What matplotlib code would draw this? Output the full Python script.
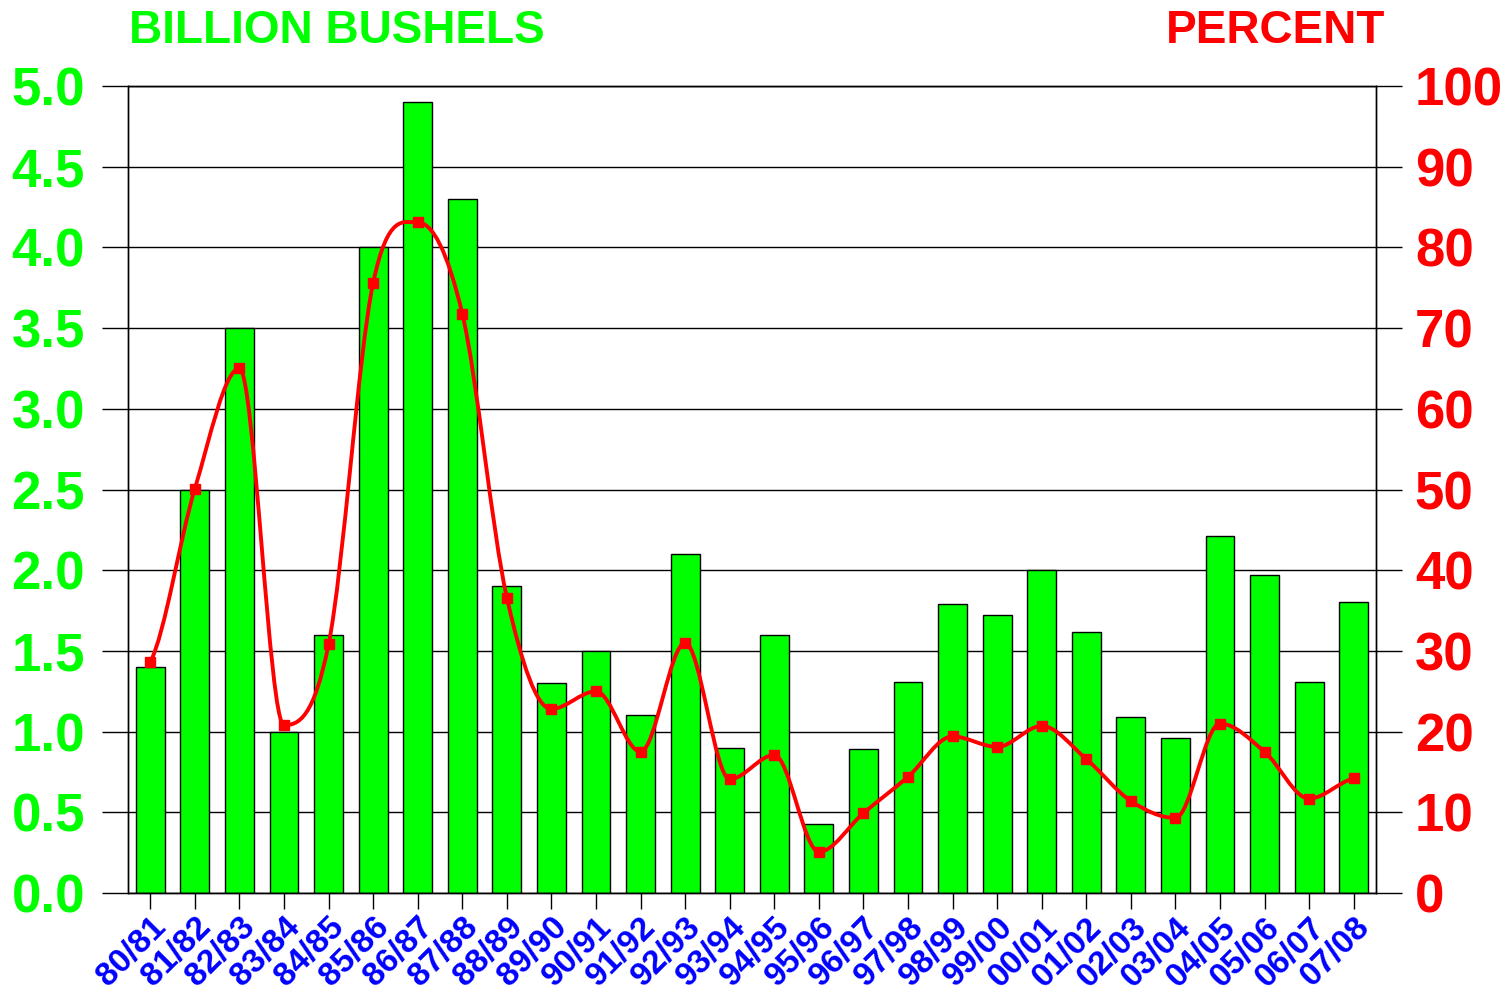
import numpy as np
import matplotlib
matplotlib.use("Agg")
import matplotlib.pyplot as plt
from matplotlib.path import Path
from matplotlib.patches import PathPatch

plt.rcParams['font.family'] = ['Liberation Sans', 'DejaVu Sans']
plt.rcParams['font.weight'] = 'bold'

# marketing years
years = ['80/81', '81/82', '82/83', '83/84', '84/85', '85/86', '86/87', '87/88',
         '88/89', '89/90', '90/91', '91/92', '92/93', '93/94', '94/95', '95/96',
         '96/97', '97/98', '98/99', '99/00', '00/01', '01/02', '02/03', '03/04',
         '04/05', '05/06', '06/07', '07/08']

# ending stocks, billion bushels (bars)
stocks = [1.40, 2.50, 3.50, 1.00, 1.60, 4.00, 4.90, 4.30,
          1.90, 1.30, 1.50, 1.10, 2.10, 0.90, 1.60, 0.43,
          0.89, 1.31, 1.79, 1.72, 2.00, 1.62, 1.09, 0.96,
          2.21, 1.97, 1.31, 1.80]

# stocks-to-use, percent (line)
pct = [28.6, 50.1, 65.0, 20.8, 30.8, 75.6, 83.1, 71.8,
       36.6, 22.8, 25.0, 17.5, 31.0, 14.1, 17.1, 5.1,
       9.9, 14.4, 19.4, 18.1, 20.7, 16.6, 11.4, 9.3,
       21.0, 17.5, 11.7, 14.2]

GREEN = '#00FF00'
RED = '#FF0000'
BLUE = '#0000FF'

fig = plt.figure(figsize=(15.07, 9.96), dpi=100)
ax1 = fig.add_axes([128 / 1507, 103 / 996, 1248 / 1507, 807 / 996])
ax2 = ax1.twinx()

x = np.arange(len(years))
ax1.bar(x, stocks, width=0.65, color=GREEN, edgecolor='black', linewidth=1, zorder=2)
ax1.set_xlim(-0.5, len(years) - 0.5)
ax1.set_ylim(0, 5)
ax1.set_yticks(np.arange(0, 5.01, 0.5))
ax1.set_yticklabels([f'{v:.1f}' for v in np.arange(0, 5.01, 0.5)])
ax1.set_axisbelow(True)
ax1.grid(axis='y', color='black', linewidth=1)
ax1.tick_params(axis='y', direction='out', length=19, width=1, pad=12,
                labelsize=38, labelcolor=GREEN)
ax1.tick_params(axis='x', direction='out', length=11.5, width=1, pad=2,
                labelsize=24, labelcolor=BLUE)
ax1.set_xticks(x)
ax1.set_xticklabels(years, rotation=45, ha='right', va='top', rotation_mode='anchor')

ax2.set_ylim(0, 100)
ax2.set_yticks(range(0, 101, 10))
ax2.tick_params(axis='y', direction='out', length=19, width=1, pad=9,
                labelsize=38, labelcolor=RED)

for ax in (ax1, ax2):
    for s in ax.spines.values():
        s.set_linewidth(1)
        s.set_color('black')

# smooth curve through the percent points: cubic Bezier segments,
# central-difference tangents, flat at local peaks and troughs
n = len(pct)
slopes = []
for i in range(n):
    if i == 0:
        m = (pct[1] - pct[0]) / 2
    elif i == n - 1:
        m = (pct[-1] - pct[-2]) / 2
    elif (pct[i] - pct[i - 1]) * (pct[i + 1] - pct[i]) <= 0:
        m = 0.0
    else:
        m = (pct[i + 1] - pct[i - 1]) / 2
    slopes.append(m)

verts = [(x[0], pct[0])]
codes = [Path.MOVETO]
for i in range(n - 1):
    verts += [(x[i] + 1 / 3, pct[i] + slopes[i] / 3),
              (x[i + 1] - 1 / 3, pct[i + 1] - slopes[i + 1] / 3),
              (x[i + 1], pct[i + 1])]
    codes += [Path.CURVE4] * 3
ax2.add_patch(PathPatch(Path(verts, codes), facecolor='none', edgecolor=RED,
                        linewidth=2.8, zorder=3))
ax2.plot(x, pct, linestyle='none', marker='s', markersize=7.5, color=RED, zorder=4)

fig.text(129 / 1507, 1 - 31 / 996, 'BILLION BUSHELS', color=GREEN, fontsize=33,
         fontweight='bold', ha='left', va='center')
fig.text(1385 / 1507, 1 - 31 / 996, 'PERCENT', color=RED, fontsize=33,
         fontweight='bold', ha='right', va='center')

fig.savefig('out.png', dpi=100)
